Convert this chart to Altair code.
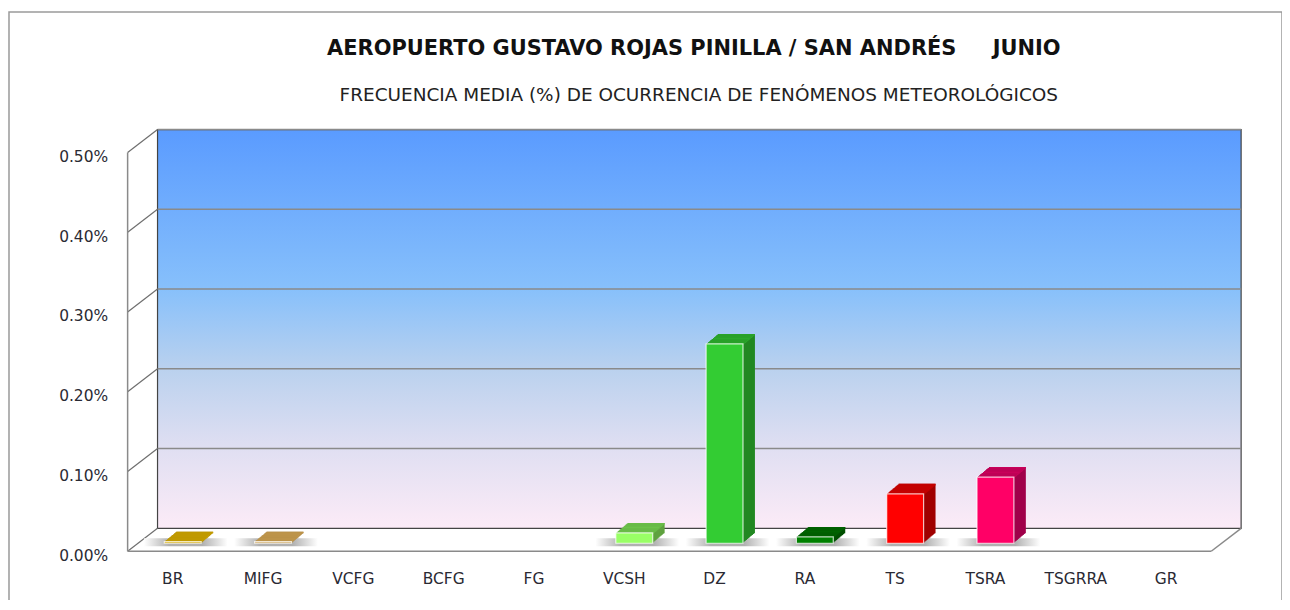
import altair as alt
import pandas as pd

# ---------------- data ----------------
categories = ["BR", "MIFG", "VCFG", "BCFG", "FG", "VCSH", "DZ", "RA", "TS", "TSRA", "TSGRRA", "GR"]
values = [0.002, 0.002, 0.0, 0.0, 0.0, 0.013, 0.25, 0.008, 0.062, 0.083, 0.0, 0.0]
front_colors = ["#D2A700", "#C9A055", "#999999", "#999999", "#999999", "#99FF66", "#33CC33",
                "#008000", "#FF0000", "#FF0066", "#999999", "#999999"]
top_colors = ["#C9A100", "#C49A4E", "#888888", "#888888", "#888888", "#6CC24A", "#2BA82B",
              "#006400", "#CC0000", "#C8005A", "#888888", "#888888"]
side_colors = ["#9C7D00", "#9C7A3C", "#777777", "#777777", "#777777", "#5FA23F", "#228822",
               "#004F00", "#A00000", "#A0004A", "#777777", "#777777"]
y_ticks = [0.0, 0.1, 0.2, 0.3, 0.4, 0.5]
title_text = ["AEROPUERTO GUSTAVO ROJAS PINILLA / SAN ANDRÉS\u00a0\u00a0\u00a0\u00a0\u00a0JUNIO"]
subtitle_text = ["FRECUENCIA MEDIA (%) DE OCURRENCIA DE FENÓMENOS METEOROLÓGICOS"]

W, H = 1087, 400          # front plane of the 3-D box
DX, DY = 30, -23          # depth of the box
BX, BY = 10, -8           # depth position of the bars
EX, EY = 12, -10          # bar depth

df = pd.DataFrame({"cat": categories, "val": values, "front": front_colors,
                   "top": top_colors, "side": side_colors})
df["z"] = 0.0
bars_df = df[df["val"] > 0]
grid_df = pd.DataFrame({"v": y_ticks})

FONT = "DejaVu Sans"
yscale = alt.Scale(domain=[0, 0.5], nice=False, zero=True)
yaxis = alt.Axis(values=y_ticks, labelExpr="format(datum.value, '.2f') + '%'", title=None,
                 domain=False, ticks=False, grid=False, labelPadding=20, labelOffset=4,
                 labelFontSize=15.5, labelFont=FONT, labelColor="#2a2a33", zindex=2)
xaxis = alt.Axis(title=None, domain=False, ticks=False, labelAngle=0, labelPadding=20,
                 labelFontSize=15.5, labelFont=FONT, labelColor="#2a2a33", zindex=2)
xenc = alt.X("cat:N", sort=categories, scale=alt.Scale(domain=categories, paddingInner=0, paddingOuter=0),
             axis=xaxis)


def Y(field):
    return alt.Y(field, type="quantitative", scale=yscale, axis=yaxis)


base = alt.Chart(df)

# outer frame
frame = base.mark_rect(fill="white", stroke="#9a9a9a", strokeWidth=1.5).encode(
    x=alt.value(-119), x2=alt.value(1158), y=alt.value(-141), y2=alt.value(H + 80)
).transform_filter("datum.cat == 'BR'")

# back wall with gradient
wall_grad = alt.Gradient(gradient="linear", x1=0, x2=0, y1=0, y2=1,
                         stops=[alt.GradientStop(offset=0, color="#5A9BFF"),
                                alt.GradientStop(offset=0.4, color="#87C0FB"),
                                alt.GradientStop(offset=0.6, color="#BAD1EE"),
                                alt.GradientStop(offset=0.8, color="#E0DFF2"),
                                alt.GradientStop(offset=1, color="#FCEBF7")])
back_wall = base.mark_rect(color=wall_grad, stroke="#444444", strokeWidth=1.2,
                           xOffset=DX, x2Offset=DX, yOffset=DY, y2Offset=DY).encode(
    x=alt.value(0), x2=alt.value(W), y=alt.value(0), y2=alt.value(H)
).transform_filter("datum.cat == 'BR'")

back_grid = alt.Chart(grid_df).mark_rule(color="#8a8a8a", strokeWidth=1.5,
                                         xOffset=DX, x2Offset=DX, yOffset=DY).encode(
    x=alt.value(0), x2=alt.value(W), y=Y("v")
).transform_filter("datum.v > 0")

left_diag = alt.Chart(grid_df).mark_rule(color="#6e6e6e", strokeWidth=1.2, y2Offset=DY).encode(
    x=alt.value(0), x2=alt.value(DX), y=Y("v"), y2=alt.Y2("v")
)
front_vert = base.mark_rule(color="#8a8a8a", strokeWidth=1.5).encode(
    x=alt.value(0), y=alt.value(0), y2=alt.value(H)
).transform_filter("datum.cat == 'BR'")
floor_front = base.mark_rule(color="#8a8a8a", strokeWidth=1.5).encode(
    x=alt.value(0), x2=alt.value(W), y=alt.value(H)
).transform_filter("datum.cat == 'BR'")
floor_right = base.mark_rule(color="#8a8a8a", strokeWidth=1.5).encode(
    x=alt.value(W), x2=alt.value(W + DX), y=alt.value(H), y2=alt.value(H + DY)
).transform_filter("datum.cat == 'BR'")

# floor shadows
shadow_grad = alt.Gradient(gradient="linear", x1=0, x2=1, y1=0, y2=0,
                           stops=[alt.GradientStop(offset=0, color="#ffffff"),
                                  alt.GradientStop(offset=0.3, color="#a8a8a8"),
                                  alt.GradientStop(offset=0.7, color="#a8a8a8"),
                                  alt.GradientStop(offset=1, color="#ffffff")])
shadows = alt.Chart(bars_df).mark_bar(color=shadow_grad, size=84, xOffset=BX + 3,
                                      yOffset=-13, y2Offset=-5, opacity=0.9).encode(
    x=xenc, y=Y("z"), y2=alt.Y2("z")
)

layers = [frame, back_wall, back_grid, left_diag, front_vert, floor_front, floor_right, shadows]

N = 12
for k in range(N, 0, -1):
    dx = BX + EX * k / N
    dy = BY + EY * k / N
    side = alt.Chart(bars_df).mark_bar(size=37, xOffset=dx, yOffset=dy, y2Offset=dy).encode(
        x=xenc, y=Y("val"), y2=alt.Y2("z"), color=alt.Color("side:N", scale=None)
    )
    top = alt.Chart(bars_df).mark_bar(size=37, xOffset=dx, yOffset=dy, y2Offset=dy + 1.6).encode(
        x=xenc, y=Y("val"), y2=alt.Y2("val"), color=alt.Color("top:N", scale=None)
    )
    layers += [side, top]

front = alt.Chart(bars_df).mark_bar(size=37, xOffset=BX, yOffset=BY, y2Offset=BY,
                                    stroke="white", strokeOpacity=0.75, strokeWidth=1.2).encode(
    x=xenc, y=Y("val"), y2=alt.Y2("z"), color=alt.Color("front:N", scale=None)
)
layers.append(front)

title = alt.Chart(pd.DataFrame({"t": title_text})).mark_text(
    font=FONT, fontSize=21, fontWeight="bold", color="#111111", baseline="middle", align="center"
).encode(text="t:N", x=alt.value(568), y=alt.value(-104))
subtitle = alt.Chart(pd.DataFrame({"t": subtitle_text})).mark_text(
    font=FONT, fontSize=18.5, color="#222222", baseline="middle", align="center"
).encode(text="t:N", x=alt.value(573), y=alt.value(-58))
layers += [title, subtitle]

chart = alt.layer(*layers).properties(
    width=W, height=H,
    autosize=alt.AutoSizeParams(type="none"),
    padding={"left": 120, "top": 144, "right": 71, "bottom": 48},
).configure_view(stroke=None).configure(background="white")

chart.save("out.html", embed_options={"renderer": "svg", "actions": False})
